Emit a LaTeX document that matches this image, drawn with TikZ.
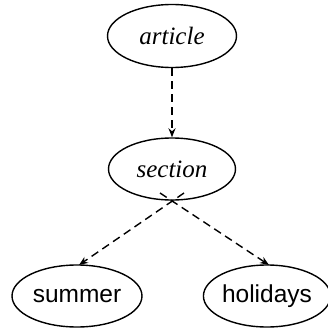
\documentclass[tikz,border=0pt]{standalone}
\usepackage{fontspec}
\setmainfont{Liberation Serif}
\setsansfont{Liberation Sans}
\usetikzlibrary{shapes.geometric,arrows.meta}
\begin{document}
\begin{tikzpicture}[x=1pt,y=-1pt,
  ell/.style={draw,ellipse,line width=1.4pt,inner sep=0pt},
  conn/.style={dashed,dash pattern=on 8pt off 5pt,line width=1.4pt,-{Stealth[length=9pt,width=7pt]}},
  ital/.style={font=\fontsize{25}{29}\selectfont\itshape},
  sans/.style={font=\fontsize{24.5}{28}\selectfont\sffamily}]
\useasboundingbox (0,0) rectangle (328,329);
\node[ell,ital,minimum width=129pt,minimum height=63pt] (article) at (172,36) {article};
\node[ell,ital,minimum width=127pt,minimum height=62pt] (section) at (172,169) {section};
\node[ell,sans,minimum width=130pt,minimum height=62pt] (summer) at (77,296) {summer};
\node[ell,sans,minimum width=121pt,minimum height=62pt] (holidays) at (267,296) {holidays};
\coordinate (sl) at (184,193);
\coordinate (sr) at (160,193);
\coordinate (tl) at (79,265);
\coordinate (tr) at (269,265);
\draw[conn] (article.south) -- (section.north);
\draw[conn] (sl) -- (tl);
\draw[conn] (sr) -- (tr);
\end{tikzpicture}
\end{document}
